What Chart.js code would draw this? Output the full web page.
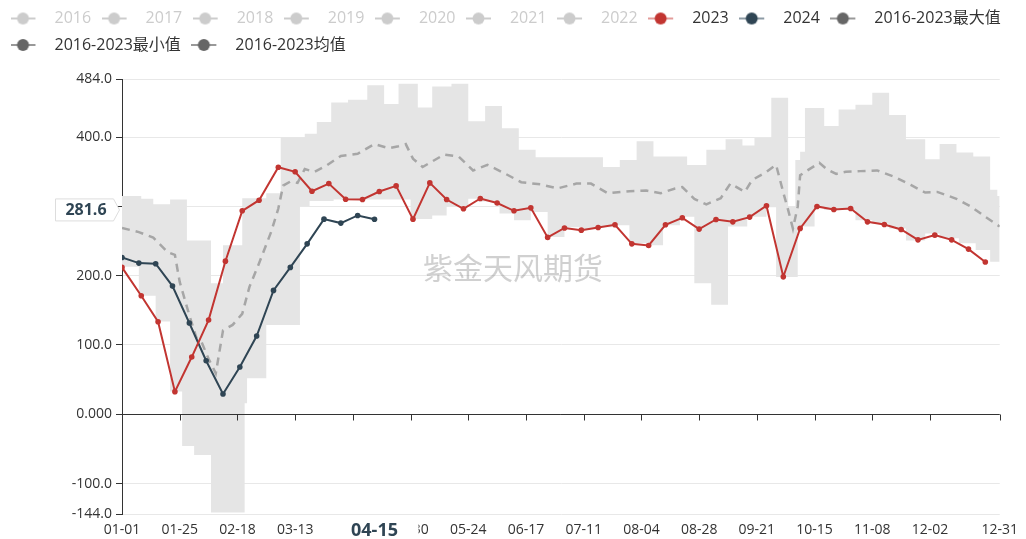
<!DOCTYPE html>
<html>
<head>
<meta charset="utf-8">
<script src="https://cdn.jsdelivr.net/npm/chart.js@4.4.0/dist/chart.umd.min.js"></script>
<style>
  html, body { margin: 0; padding: 0; background: #fff; }
  #wrap { width: 1026px; height: 539px; }
</style>
</head>
<body>
<div id="wrap"><canvas id="myChart"></canvas></div>
<script>
const FONT = "'Open Sans', 'Noto Sans CJK SC', sans-serif"

// x axis runs over a leap-year calendar, dates as MM-DD
const xTickDates = ['01-01', '01-25', '02-18', '03-13', '04-06', '04-30', '05-24', '06-17',
  '07-11', '08-04', '08-28', '09-21', '10-15', '11-08', '12-02', '12-31']
const yTickValues = [-144, -100, 0, 100, 200, 300, 400, 484]
const yTickLabels = ['-144.0', '-100.0', '0.000', '100.0', '200.0', '300.0', '400.0', '484.0']

const legendYears = ['2016', '2017', '2018', '2019', '2020', '2021', '2022']

const dates2023 = ['01-01', '01-09', '01-16', '01-23', '01-30', '02-06', '02-13', '02-20', '02-27',
  '03-06', '03-13', '03-20', '03-27', '04-03', '04-10', '04-17', '04-24', '05-01', '05-08', '05-15',
  '05-22', '05-29', '06-05', '06-12', '06-19', '06-26', '07-03', '07-10', '07-17', '07-24', '07-31',
  '08-07', '08-14', '08-21', '08-28', '09-04', '09-11', '09-18', '09-25', '10-02', '10-09', '10-16',
  '10-23', '10-30', '11-06', '11-13', '11-20', '11-27', '12-04', '12-11', '12-18', '12-25']
const values2023 = [212, 171, 133.6, 32.6, 82.6, 136, 221, 293.7, 309, 356.7, 350, 322, 333,
  310.5, 310, 321.6, 329.7, 281.7, 334, 310, 296.6, 311.5, 305, 293.7, 298, 255.3, 269, 265.8,
  269.7, 273.5, 246, 243.7, 273.5, 283.6, 267.3, 281.2, 277.8, 284.6, 301, 198.5, 268.3, 300,
  295.7, 297, 277.8, 274, 266.8, 251.8, 258.6, 251.8, 238.4, 219.7]

const dates2024 = ['01-01', '01-08', '01-15', '01-22', '01-29', '02-05', '02-12', '02-19', '02-26',
  '03-04', '03-11', '03-18', '03-25', '04-01', '04-08', '04-15']
const values2024 = [226.4, 218.2, 217.3, 185, 131.7, 77.3, 29.3, 68.2, 113, 178.8, 212, 246,
  281.7, 276, 287, 281.6]

const meanDates = ['01-01', '01-08', '01-14', '01-20', '01-23', '01-25', '01-29', '02-01', '02-03',
  '02-06', '02-09', '02-12', '02-16', '02-20', '02-23', '02-27', '03-03', '03-06', '03-08', '03-11',
  '03-14', '03-17', '03-21', '03-26', '04-01', '04-08', '04-15', '04-21', '04-25', '04-28', '05-01',
  '05-05', '05-08', '05-14', '05-20', '05-26', '06-01', '06-08', '06-15', '06-23', '06-30', '07-08',
  '07-14', '07-21', '07-30', '08-06', '08-12', '08-18', '08-21', '08-26', '08-31', '09-06', '09-10',
  '09-16', '09-19', '09-25', '09-29', '10-02', '10-04', '10-06', '10-08', '10-09', '10-12', '10-17',
  '10-20', '10-24', '10-28', '11-03', '11-10', '11-17', '11-24', '11-30', '12-05', '12-13', '12-19',
  '12-25', '12-31']
const meanValues = [269, 263, 255, 234, 230, 191, 143, 110, 105, 80, 59, 121, 129, 145, 184, 218,
  263, 297, 330, 336, 334, 354, 350, 359, 373, 376, 390, 384, 387, 390, 369, 357, 363, 375, 372,
  352, 360, 348, 335, 332, 326, 333, 333, 319, 322, 323, 319, 326, 328, 311, 303, 312, 333, 321,
  338, 350, 360, 320, 295, 268, 300, 345, 352, 363, 354, 347, 350, 351, 352, 343, 331, 320, 321,
  311, 300, 285, 271]

// 2016-2023 max / min: value holds from each date until the next one
const maxDates = ['01-01', '01-09', '01-14', '01-21', '01-28', '02-07', '02-12', '02-20', '03-01',
  '03-07', '03-17', '03-22', '03-28', '04-04', '04-12', '04-19', '04-25', '05-03', '05-09', '05-17',
  '05-24', '05-31', '06-07', '06-14', '06-21', '07-19', '07-26', '08-02', '08-09', '08-23', '08-31',
  '09-08', '09-15', '09-20', '09-27', '10-04', '10-07', '10-09', '10-11', '10-19', '10-25', '11-01',
  '11-08', '11-15', '11-22', '11-30', '12-06', '12-13', '12-20', '12-27', '12-30', '12-31']
const maxValues = [315, 311, 303, 310, 251, 189, 244, 312, 319, 400, 405, 422, 450, 454, 475, 448,
  477, 443, 473, 477, 423, 445, 413, 382, 371, 357, 367, 394, 372, 360, 382, 397, 388, 399, 457,
  300, 367, 379, 442, 416, 440, 447, 464, 432, 397, 368, 390, 378, 372, 324, 315, 315]

const minDates = ['01-01', '01-08', '01-15', '01-21', '01-26', '01-31', '02-07', '02-21', '02-22',
  '03-01', '03-15', '03-19', '03-29', '04-30', '05-09', '05-15', '05-24', '05-28', '06-06', '06-12',
  '06-19', '06-26', '07-03', '07-10', '07-16', '07-23', '07-30', '08-06', '08-13', '08-20', '08-26',
  '09-02', '09-09', '09-17', '09-25', '09-29', '10-08', '10-15', '10-19', '11-01', '11-08', '11-15',
  '11-22', '11-30', '12-06', '12-14', '12-21', '12-27', '12-31']
const minValues = [213, 171, 134, 33, -46, -59, -142, 16, 52, 129, 300, 308, 310, 282, 287, 300,
  311, 307, 290, 280, 292, 256, 270, 267, 270, 273, 247, 244, 273, 285, 189, 158, 271, 285, 299,
  198, 271, 299, 295, 280, 275, 268, 251, 261, 254, 247, 237, 220, 220]

// hover state shown in the picture
const hoverDate = '04-15'
const hoverLevel = 295
const hoverLabel = '281.6'

const monthStart = [0, 31, 60, 91, 121, 152, 182, 213, 244, 274, 305, 335]
function dayOf(md) {
  const [m, d] = md.split('-').map(Number)
  return monthStart[m - 1] + d - 1
}
function toPoints(dates, values) {
  return dates.map((d, i) => ({ x: dayOf(d), y: values[i] }))
}

// legend icon: short line with a dot, like the original
function makeIcon(lineColor, dotColor) {
  const c = document.createElement('canvas')
  c.width = 36
  c.height = 16
  const g = c.getContext('2d')
  g.strokeStyle = lineColor
  g.lineWidth = 2
  g.beginPath()
  g.moveTo(0, 8)
  g.lineTo(25, 8)
  g.stroke()
  g.fillStyle = dotColor
  g.beginPath()
  g.arc(12.5, 8, 6, 0, Math.PI * 2)
  g.fill()
  return c
}

const legendItems = [
  ...legendYears.map(t => ({ text: t, line: '#ccc', dot: '#ccc', font: '#ccc' })),
  { text: '2023', line: '#e39c9a', dot: '#c23531', font: '#333' },
  { text: '2024', line: '#8d9ba5', dot: '#2f4554', font: '#333' },
  { text: '2016-2023最大值', line: '#999', dot: '#666', font: '#333' },
  { text: '2016-2023最小值', line: '#999', dot: '#666', font: '#333' },
  { text: '2016-2023均值', line: '#999', dot: '#666', font: '#333' }
].map(item => ({
  text: item.text,
  fontColor: item.font,
  pointStyle: makeIcon(item.line, item.dot),
  fillStyle: item.dot,
  strokeStyle: item.dot,
  lineWidth: 0,
  hidden: false
}))

const overlay = {
  id: 'overlay',
  afterDraw(chart) {
    const { ctx, chartArea, scales: { x, y } } = chart
    ctx.save()

    // watermark
    ctx.fillStyle = 'rgba(120, 120, 120, 0.35)'
    ctx.font = `30px ${FONT}`
    ctx.textAlign = 'center'
    ctx.textBaseline = 'middle'
    ctx.fillText('紫金天风期货', chart.width / 2, 270)

    // x axis line sits on zero
    const y0 = Math.round(y.getPixelForValue(0)) + 0.5
    ctx.strokeStyle = '#333'
    ctx.lineWidth = 1
    ctx.beginPath()
    ctx.moveTo(chartArea.left, y0)
    ctx.lineTo(chartArea.right, y0)
    xTickDates.forEach(d => {
      const px = Math.round(x.getPixelForValue(dayOf(d))) + 0.5
      ctx.moveTo(px, y0)
      ctx.lineTo(px, y0 + 6)
    })
    ctx.stroke()

    // axis pointer label on x
    const hx = x.getPixelForValue(dayOf(hoverDate))
    ctx.fillStyle = '#fff'
    ctx.fillRect(hx - 44, chartArea.bottom + 4, 88, 25)
    ctx.fillStyle = '#2f4554'
    ctx.font = `bold 18px ${FONT}`
    ctx.fillText(hoverDate, hx, chartArea.bottom + 17)

    // axis pointer label on y
    const hy = y.getPixelForValue(hoverLevel)
    ctx.beginPath()
    ctx.moveTo(55.5, hy - 11)
    ctx.lineTo(113.5, hy - 11)
    ctx.lineTo(119.5, hy)
    ctx.lineTo(113.5, hy + 11)
    ctx.lineTo(55.5, hy + 11)
    ctx.closePath()
    ctx.fillStyle = '#fff'
    ctx.fill()
    ctx.strokeStyle = '#ddd'
    ctx.stroke()
    ctx.fillStyle = '#2f4554'
    ctx.font = `bold 16px ${FONT}`
    ctx.fillText(hoverLabel, 86, hy + 1)

    ctx.restore()
  }
}

const ctx = document.getElementById('myChart').getContext('2d')
const myChart = new Chart(ctx, {
  type: 'line',
  data: {
    datasets: [
      {
        label: '2023',
        data: toPoints(dates2023, values2023),
        borderColor: '#c23531',
        backgroundColor: '#c23531',
        borderWidth: 2,
        pointRadius: 2.8,
        pointBorderWidth: 0,
        fill: false
      },
      {
        label: '2024',
        data: toPoints(dates2024, values2024),
        borderColor: '#2f4554',
        backgroundColor: '#2f4554',
        borderWidth: 2,
        pointRadius: 2.8,
        pointBorderWidth: 0,
        fill: false
      },
      {
        label: '2016-2023均值',
        data: toPoints(meanDates, meanValues),
        borderColor: '#a6a6a6',
        borderWidth: 2.5,
        borderDash: [8, 6],
        pointRadius: 0,
        fill: false
      },
      {
        label: '2016-2023最大值',
        data: toPoints(maxDates, maxValues),
        stepped: 'before',
        borderWidth: 0,
        borderColor: 'rgba(0,0,0,0)',
        backgroundColor: '#e5e5e5',
        pointRadius: 0,
        fill: '+1'
      },
      {
        label: '2016-2023最小值',
        data: toPoints(minDates, minValues),
        stepped: 'before',
        borderWidth: 0,
        borderColor: 'rgba(0,0,0,0)',
        pointRadius: 0,
        fill: false
      }
    ]
  },
  options: {
    responsive: true,
    maintainAspectRatio: false,
    animation: false,
    events: [],
    layout: { padding: 0 },
    plugins: {
      tooltip: { enabled: false },
      legend: {
        position: 'top',
        align: 'start',
        onClick: () => {},
        labels: {
          usePointStyle: true,
          pointStyleWidth: 36,
          padding: 10.5,
          font: { size: 16, family: FONT },
          generateLabels: () => legendItems
        }
      },
      subtitle: {
        display: true,
        text: '',
        weight: 500,
        padding: 0,
        font: { size: 16, lineHeight: 1 }
      }
    },
    scales: {
      x: {
        type: 'linear',
        min: 0,
        max: 365,
        afterFit: scale => { scale.height = 25 },
        afterBuildTicks: scale => { scale.ticks = xTickDates.map(d => ({ value: dayOf(d) })) },
        border: { display: false },
        grid: { display: false, drawTicks: false },
        ticks: {
          autoSkip: false,
          maxRotation: 0,
          padding: 8,
          color: '#333',
          font: { size: 14, family: FONT },
          callback: (value, index) => xTickDates[index]
        }
      },
      y: {
        min: -144,
        max: 484,
        afterFit: scale => { scale.width = 122 },
        afterBuildTicks: scale => { scale.ticks = yTickValues.map(v => ({ value: v })) },
        border: { display: true, color: '#333', width: 1 },
        grid: { color: '#e8e8e8', tickColor: '#333', tickLength: 6 },
        ticks: {
          padding: 4,
          color: '#333',
          font: { size: 14, family: FONT },
          callback: (value, index) => yTickLabels[index]
        }
      },
      // empty right margin, keeps the plot edge where the original has it
      yRight: {
        position: 'right',
        afterFit: scale => { scale.width = 24 },
        border: { display: false },
        grid: { display: false, drawTicks: false },
        ticks: { display: false }
      }
    }
  },
  plugins: [overlay]
})
</script>
</body>
</html>
